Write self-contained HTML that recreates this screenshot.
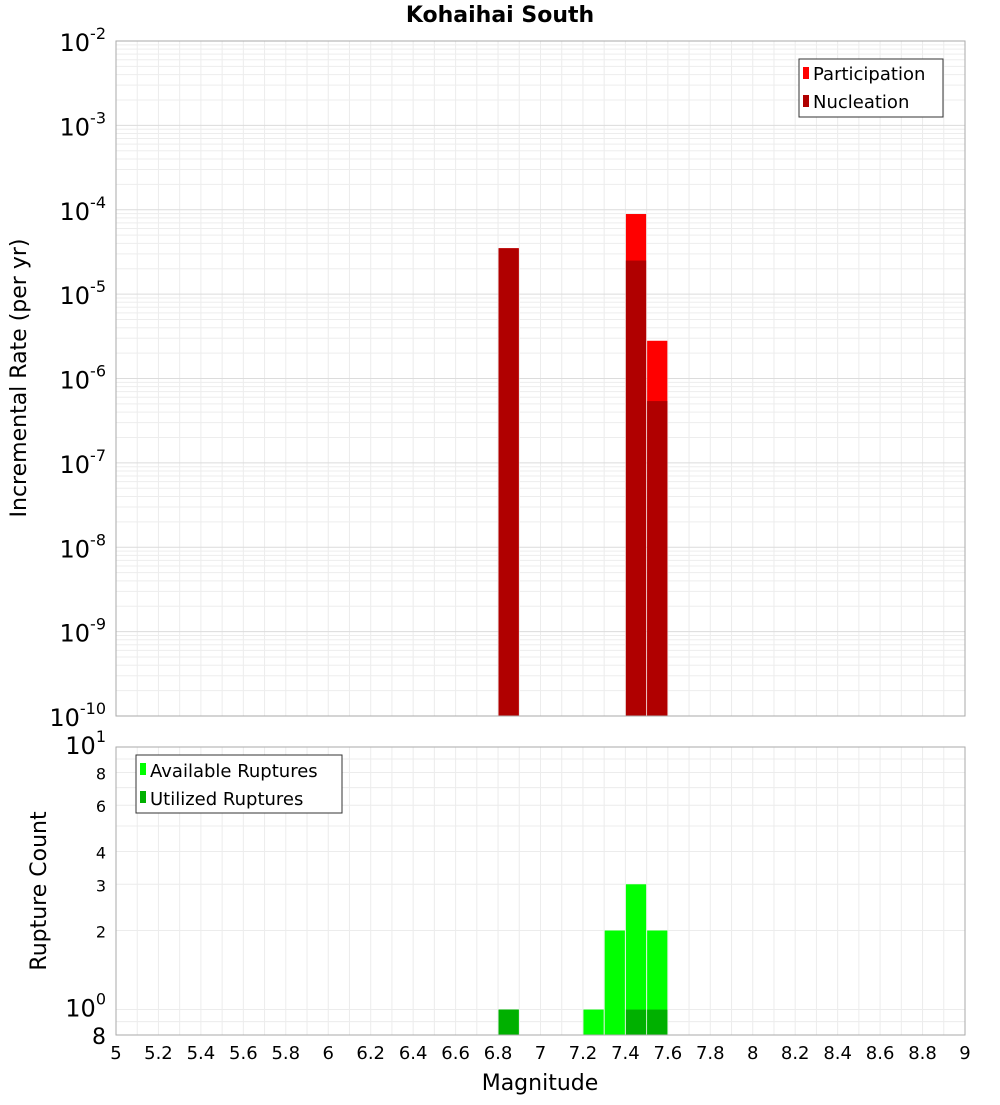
<!DOCTYPE html>
<html><head><meta charset="utf-8"><style>
body{margin:0;background:#fff;}
svg{font-family:"DejaVu Sans","Liberation Sans",sans-serif;}
</style></head><body>
<svg id="c" width="1000" height="1100" xmlns="http://www.w3.org/2000/svg">
<rect width="1000" height="1100" fill="#fff"/>
<text x="500" y="22" text-anchor="middle" font-size="22" font-weight="bold">Kohaihai South</text>
<g id="topg"></g><g id="botg"></g>
<text transform="translate(26,378) rotate(-90)" text-anchor="middle" font-size="22">Incremental Rate (per yr)</text>
<text transform="translate(46,891) rotate(-90)" text-anchor="middle" font-size="22">Rupture Count</text>
<text x="540" y="1090" text-anchor="middle" font-size="22">Magnitude</text>
<g>
<rect x="799" y="59" width="144" height="58" fill="#fff" stroke="#333"/>
<rect x="803" y="67" width="6" height="12" fill="#ff0000"/><text x="813" y="80" font-size="18">Participation</text>
<rect x="803" y="95" width="6" height="12" fill="#b00000"/><text x="813" y="108" font-size="18">Nucleation</text>
</g>
<g>
<rect x="136" y="755" width="206" height="58" fill="#fff" stroke="#333"/>
<rect x="140" y="763" width="6" height="12" fill="#00ff00"/><text x="150" y="777" font-size="18">Available Ruptures</text>
<rect x="140" y="791" width="6" height="12" fill="#00b000"/><text x="150" y="805" font-size="18">Utilized Ruptures</text>
</g>
</svg>
<script>
const binCenters=[6.85,7.25,7.35,7.45,7.55];
const participation=[3.5e-5,0,0,8.9e-5,2.8e-6];
const nucleation=[3.5e-5,0,0,2.5e-5,5.4e-7];
const available=[1,1,2,3,2];
const utilized=[1,0,0,1,1];
const xTicks=[5,5.2,5.4,5.6,5.8,6,6.2,6.4,6.6,6.8,7,7.2,7.4,7.6,7.8,8,8.2,8.4,8.6,8.8,9];
const topExps=[-2,-3,-4,-5,-6,-7,-8,-9,-10];
const botTicks=[10,8,6,4,3,2,1,0.8];
const NS="http://www.w3.org/2000/svg";
const X0=116,X1=965;
const x=m=>X0+(m-5)/4*(X1-X0);
const T0=41,T1=716,yT=v=>T0+(-2-Math.log10(v))/8*(T1-T0);
const B0=747,B1=1035,lo=Math.log10(0.8),yB=v=>B0+(1-Math.log10(v))/(1-lo)*(B1-B0);
function mk(t,a,p){const e=document.createElementNS(NS,t);for(const k in a)e.setAttribute(k,a[k]);(p||document.getElementById('c')).appendChild(e);return e;}
const topG=document.getElementById('topg'),botG=document.getElementById('botg');
for(let i=0;i<=40;i++){const gx=x(5+i*0.1);
 let l=mk('line',{x1:gx,x2:gx,y1:T0,y2:T1,stroke:'#ececec'},topG);
 l=mk('line',{x1:gx,x2:gx,y1:B0,y2:B1,stroke:'#ececec'},botG);}
for(let e=-10;e<-2;e++)for(let k=1;k<10;k++){const gy=yT(k*Math.pow(10,e));
 const l=mk('line',{x1:X0,x2:X1,y1:gy,y2:gy,stroke:k==1?'#dcdcdc':'#ededed'},topG);}
for(const v of [0.8,0.9,1,2,3,4,5,6,7,8,9,10]){const gy=yB(v);
 const l=mk('line',{x1:X0,x2:X1,y1:gy,y2:gy,stroke:'#ececec'},botG);}
binCenters.forEach((c,i)=>{const xl=x(c-0.05)+0.5,w=x(c+0.05)-x(c-0.05)-1;
 if(participation[i]>0){const yy=yT(participation[i]);const r=mk('rect',{x:xl,y:yy,width:w,height:T1-yy,fill:'#ff0000'},topG);}
 if(nucleation[i]>0){const yy=yT(nucleation[i]);const r=mk('rect',{x:xl,y:yy,width:w,height:T1-yy,fill:'#b00000'},topG);}
 if(available[i]>0){const yy=yB(available[i]);const r=mk('rect',{x:xl,y:yy,width:w,height:B1-yy,fill:'#00ff00'},botG);}
 if(utilized[i]>0){const yy=yB(utilized[i]);const r=mk('rect',{x:xl,y:yy,width:w,height:B1-yy,fill:'#00b000'},botG);}
});
let f=mk('rect',{x:X0,y:T0,width:X1-X0,height:T1-T0,fill:'none',stroke:'#aaa'},topG);
f=mk('rect',{x:X0,y:B0,width:X1-X0,height:B1-B0,fill:'none',stroke:'#aaa'},botG);
topExps.forEach(e=>{const gy=yT(Math.pow(10,e));const t=mk('text',{x:106,y:gy+10,'text-anchor':'end','font-size':24},topG);
 
 t.innerHTML='10<tspan dy="-12" font-size="16">'+e+'</tspan>';});
botTicks.forEach(v=>{const gy=yB(v);const t=mk('text',{x:106,y:gy+7,'text-anchor':'end','font-size':(v==1||v==10)?24:16},botG);
 
 if(v==10)t.innerHTML='10<tspan dy="-12" font-size="16">1</tspan>';else if(v==1)t.innerHTML='10<tspan dy="-12" font-size="16">0</tspan>';else{t.textContent=v==0.8?'8':String(v);if(v==0.8){t.setAttribute('font-size','22');t.setAttribute('y',gy+9);}}});
xTicks.forEach(m=>{const t=mk('text',{x:x(m),y:1059,'text-anchor':'middle','font-size':18});
 t.textContent=String(m);});
</script>
</body></html>
